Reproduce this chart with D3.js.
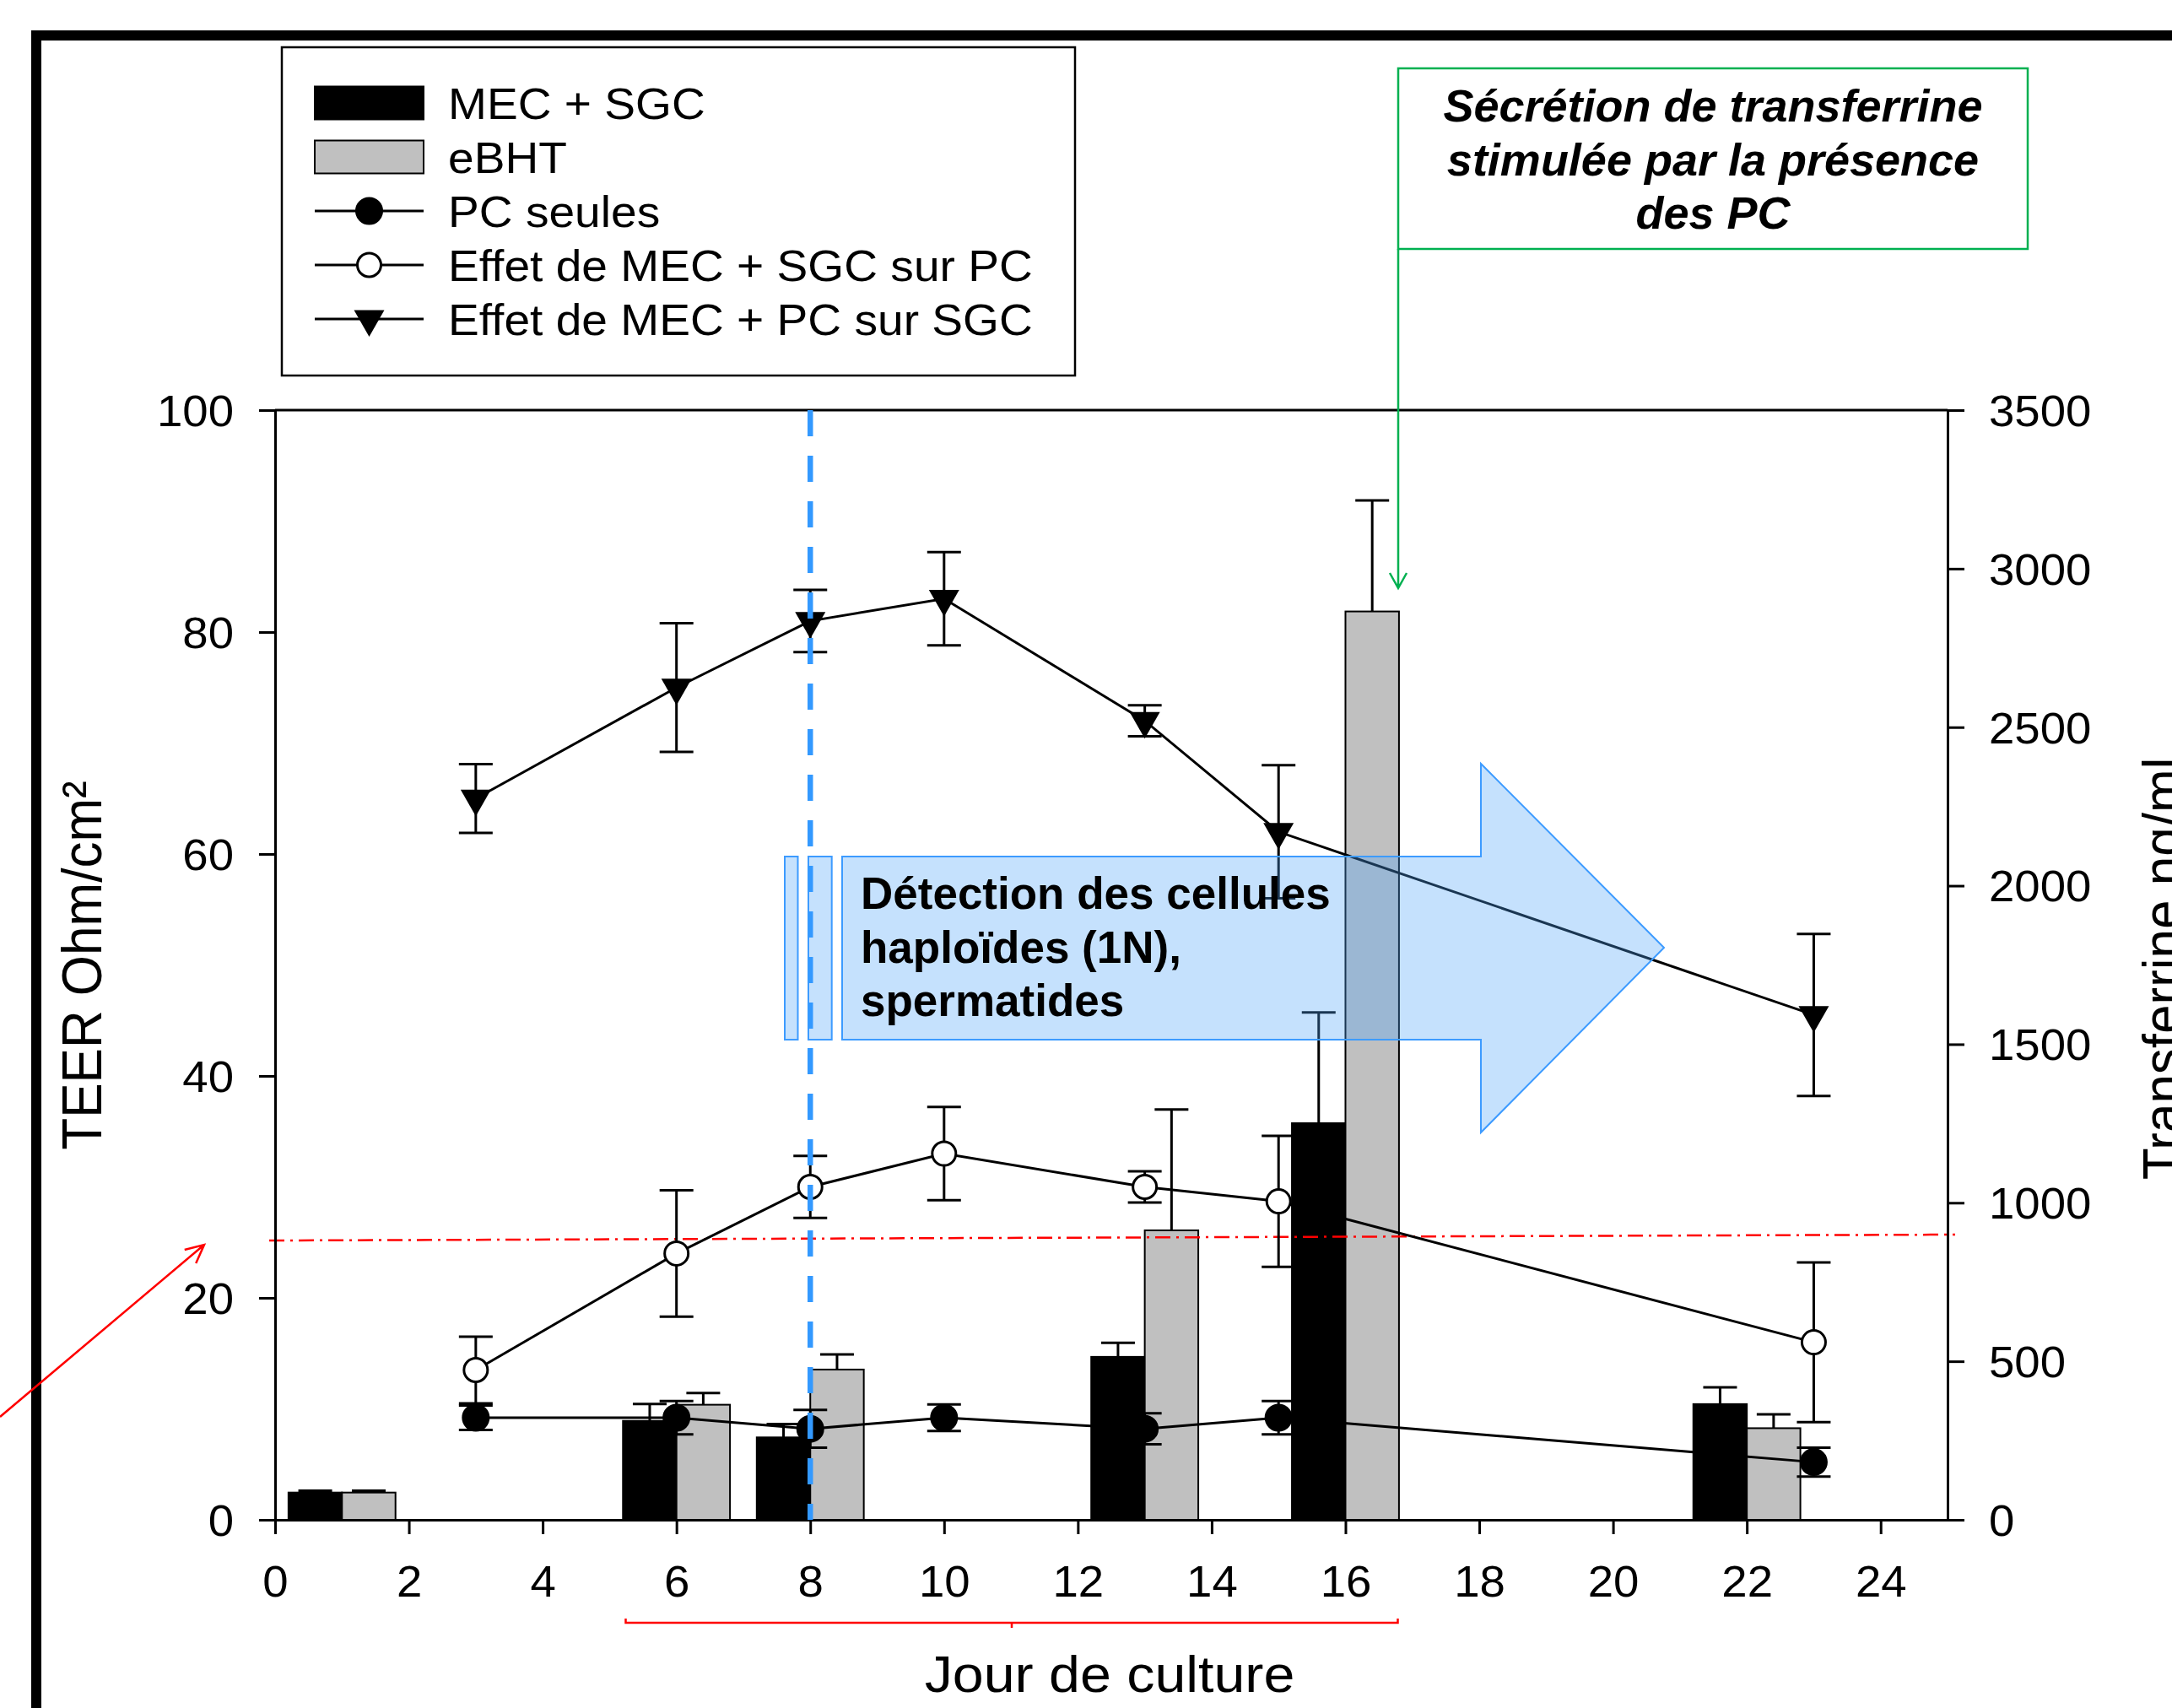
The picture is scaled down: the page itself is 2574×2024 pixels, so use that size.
<!DOCTYPE html>
<html><head><meta charset="utf-8">
<script src="https://cdn.jsdelivr.net/npm/d3@7"></script>
<style>body{margin:0;background:#fff} svg{display:block}</style>
</head><body>
<svg id="c" width="2574" height="2024"></svg>
<script>
// ---------- data ----------
const days = [3, 6, 8, 10, 13, 15, 23];
const pcSeules = [9.2, 9.2, 8.2, 9.2, 8.2, 9.2, 5.2];
const pcSeulesErr = [1.1, 1.5, 1.7, 1.2, 1.4, 1.5, 1.3];
const effetSgcSurPc = [13.5, 24.0, 30.0, 33.0, 30.0, 28.7, 16.0];
const effetSgcSurPcErr = [3.0, 5.7, 2.8, 4.2, 1.4, 5.9, 7.2];
const effetPcSurSgc = [65.0, 75.0, 81.0, 83.0, 72.0, 62.0, 45.5];
const effetPcSurSgcErr = [3.1, 5.8, 2.8, 4.2, 1.4, 6.0, 7.3];
const barDays = [1, 6, 8, 13, 16, 22];
const mecSgc = [86, 312, 260, 514, 1251, 365];
const mecSgcErr = [6, 53, 42, 44, 349, 53];
const ebht = [86, 363, 474, 913, 2865, 289];
const ebhtErr = [6, 37, 48, 381, 350, 44];
const xTicks = [0, 2, 4, 6, 8, 10, 12, 14, 16, 18, 20, 22, 24];
const leftTicks = [0, 20, 40, 60, 80, 100];
const rightTicks = [0, 500, 1000, 1500, 2000, 2500, 3000, 3500];
const legendLabels = ["MEC + SGC", "eBHT", "PC seules", "Effet de MEC + SGC sur PC", "Effet de MEC + PC sur SGC"];
const xTitle = "Jour de culture";
const yLeftTitle = "TEER Ohm/cm²";
const yRightTitle = "Transferrine ng/ml";
const noteGreen = ["Sécrétion de transferrine", "stimulée par la présence", "des PC"];
const noteBlue = ["Détection des cellules", "haploïdes (1N),", "spermatides"];
const detectionDay = 8;
const barWidthDays = 0.8;

// ---------- setup ----------
const FONT = "'Liberation Sans', Arial, Helvetica, sans-serif";
const SX = 1.07;
const svg = d3.select("#c");
svg.append("rect").attr("width", 2574).attr("height", 2024).attr("fill", "#fff");

const x = d3.scaleLinear().domain([0, 25]).range([326, 2308]);
const yL = d3.scaleLinear().domain([0, 100]).range([1801, 486]);
const yR = d3.scaleLinear().domain([0, 3500]).range([1801, 486]);

function stext(parent, px, py, txt, size, anchor, rot, weight, style, sx) {
  const g = parent.append("g")
    .attr("transform", `translate(${px},${py}) scale(${sx == null ? SX : sx},1)` + (rot ? ` rotate(${rot})` : ""));
  g.append("text").attr("x", 0).attr("y", 0)
    .attr("font-family", FONT).attr("font-size", size)
    .attr("text-anchor", anchor || "start")
    .attr("font-weight", weight || "normal")
    .attr("font-style", style || "normal")
    .attr("fill", "#000").text(txt);
  return g;
}

// outer frame (thick black)
svg.append("rect").attr("x", 37).attr("y", 36).attr("width", 2574 - 37).attr("height", 12).attr("fill", "#000");
svg.append("rect").attr("x", 37).attr("y", 36).attr("width", 12).attr("height", 2024 - 36).attr("fill", "#000");

// ---------- bars ----------
const plot = svg.append("g");
const bw = x(barWidthDays) - x(0);
plot.selectAll("rect.mec").data(barDays).join("rect")
  .attr("x", (d) => x(d - barWidthDays)).attr("width", bw)
  .attr("y", (d, i) => yR(mecSgc[i])).attr("height", (d, i) => yR(0) - yR(mecSgc[i]))
  .attr("fill", "#000").attr("stroke", "#000").attr("stroke-width", 2);
plot.selectAll("rect.ebht").data(barDays).join("rect")
  .attr("x", (d) => x(d)).attr("width", bw)
  .attr("y", (d, i) => yR(ebht[i])).attr("height", (d, i) => yR(0) - yR(ebht[i]))
  .attr("fill", "#c0c0c0").attr("stroke", "#000").attr("stroke-width", 2);

function barErr(vals, errs, offset) {
  barDays.forEach((d, i) => {
    const cx = x(d + offset);
    const y0 = yR(vals[i]), y1 = yR(vals[i] + errs[i]);
    plot.append("line").attr("x1", cx).attr("x2", cx).attr("y1", y0).attr("y2", y1)
      .attr("stroke", "#000").attr("stroke-width", 3);
    plot.append("line").attr("x1", cx - 20).attr("x2", cx + 20).attr("y1", y1).attr("y2", y1)
      .attr("stroke", "#000").attr("stroke-width", 3);
  });
}
barErr(mecSgc, mecSgcErr, -barWidthDays / 2);
barErr(ebht, ebhtErr, barWidthDays / 2);

// red dash-dot threshold line
svg.append("line").attr("x1", 319).attr("y1", 1470).attr("x2", 2317).attr("y2", 1463)
  .attr("stroke", "#ff0000").attr("stroke-width", 2.5).attr("stroke-dasharray", "18,7,3,7");

// ---------- line series ----------
const lineGen = d3.line().x((d) => x(d[0])).y((d) => yL(d[1]));
const series = [
  { vals: effetPcSurSgc, errs: effetPcSurSgcErr, marker: "tri" },
  { vals: effetSgcSurPc, errs: effetSgcSurPcErr, marker: "open" },
  { vals: pcSeules, errs: pcSeulesErr, marker: "filled" }
];
function triPath(cx, cy) {
  return `M${cx - 18},${cy - 10.5}L${cx + 18},${cy - 10.5}L${cx},${cy + 21}Z`;
}
function drawMarker(g, type, cx, cy) {
  if (type === "tri") {
    g.append("path").attr("d", triPath(cx, cy)).attr("fill", "#000");
  } else {
    g.append("circle").attr("cx", cx).attr("cy", cy).attr("r", type === "open" ? 14 : 15)
      .attr("fill", type === "open" ? "#fff" : "#000")
      .attr("stroke", "#000").attr("stroke-width", 3);
  }
}
const lg = svg.append("g");
series.forEach((s) => {
  lg.append("path").datum(days.map((d, i) => [d, s.vals[i]])).attr("d", lineGen)
    .attr("fill", "none").attr("stroke", "#000").attr("stroke-width", 3);
});
series.forEach((s) => {
  days.forEach((d, i) => {
    const cx = x(d), yt = yL(s.vals[i] + s.errs[i]), yb = yL(s.vals[i] - s.errs[i]);
    lg.append("line").attr("x1", cx).attr("x2", cx).attr("y1", yt).attr("y2", yb)
      .attr("stroke", "#000").attr("stroke-width", 3);
    [yt, yb].forEach((yy) => lg.append("line").attr("x1", cx - 20).attr("x2", cx + 20)
      .attr("y1", yy).attr("y2", yy).attr("stroke", "#000").attr("stroke-width", 3));
  });
});
series.forEach((s) => {
  days.forEach((d, i) => drawMarker(lg, s.marker, x(d), yL(s.vals[i])));
});

// ---------- axes ----------
function styleAxis(g, tx) {
  g.attr("font-family", FONT).attr("font-size", 51);
  g.select(".domain").attr("stroke", "#000").attr("stroke-width", 3);
  g.selectAll(".tick line").attr("stroke", "#000").attr("stroke-width", 3);
  g.selectAll(".tick text").attr("fill", "#000").attr("transform", `scale(${SX},1)`);
  if (tx != null) g.selectAll(".tick text").attr("x", tx / SX).attr("dy", "0.36em");
}
const gB = svg.append("g").attr("transform", `translate(0,${yL(0)})`)
  .call(d3.axisBottom(x).tickValues(xTicks).tickFormat(d3.format("d")).tickSize(17).tickPadding(38).tickSizeOuter(0));
styleAxis(gB, null);
const gLft = svg.append("g").attr("transform", `translate(${x(0)},0)`)
  .call(d3.axisLeft(yL).tickValues(leftTicks).tickFormat(d3.format("d")).tickSize(19).tickPadding(30).tickSizeOuter(0));
styleAxis(gLft, -49);
const gR = svg.append("g").attr("transform", `translate(${x(25)},0)`)
  .call(d3.axisRight(yR).tickValues(rightTicks).tickFormat(d3.format("d")).tickSize(20).tickPadding(29).tickSizeOuter(0));
styleAxis(gR, 49);
// top frame line
svg.append("line").attr("x1", x(0)).attr("x2", x(25)).attr("y1", yL(100)).attr("y2", yL(100))
  .attr("stroke", "#000").attr("stroke-width", 3);

// axis titles
stext(svg, 1315, 2005, xTitle, 62, "middle");
stext(svg, 120, 1144, yLeftTitle, 62, "middle", -90);
stext(svg, 2586, 1148, yRightTitle, 62, "middle", -90);

// red bracket under x axis
svg.append("path").attr("d", "M741.5,1918 V1923 H1656.5 V1918 M1199,1923 V1929")
  .attr("fill", "none").attr("stroke", "#ff0000").attr("stroke-width", 2.5);

// red arrow on left
(function () {
  const x0 = 0, y0 = 1679, x1 = 242, y1 = 1475;
  const a = Math.atan2(y1 - y0, x1 - x0), L = 24, w = 0.45;
  svg.append("path")
    .attr("d", `M${x0},${y0}L${x1},${y1}M${x1 - L * Math.cos(a - w)},${y1 - L * Math.sin(a - w)}L${x1},${y1}L${x1 - L * Math.cos(a + w)},${y1 - L * Math.sin(a + w)}`)
    .attr("fill", "none").attr("stroke", "#ff0000").attr("stroke-width", 2.5);
})();

// ---------- legend ----------
const leg = svg.append("g");
leg.append("rect").attr("x", 334).attr("y", 56).attr("width", 940).attr("height", 389)
  .attr("fill", "#fff").attr("stroke", "#000").attr("stroke-width", 2.5);
const legTypes = ["barBlack", "barGray", "filled", "open", "tri"];
legendLabels.forEach((lab, i) => {
  const cy = 122 + i * 64;
  const t = legTypes[i];
  if (t === "barBlack" || t === "barGray") {
    leg.append("rect").attr("x", 373).attr("y", cy - 19.5).attr("width", 129).attr("height", 39)
      .attr("fill", t === "barBlack" ? "#000" : "#c0c0c0").attr("stroke", "#000").attr("stroke-width", 2);
  } else {
    leg.append("line").attr("x1", 373).attr("x2", 502).attr("y1", cy).attr("y2", cy)
      .attr("stroke", "#000").attr("stroke-width", 3);
    drawMarker(leg, t, 437.5, cy);
  }
  stext(leg, 531, cy + 19, lab, 52, "start", 0, "normal", "normal", 1.06);
});

// ---------- green annotation ----------
svg.append("rect").attr("x", 1657).attr("y", 81).attr("width", 746).attr("height", 214)
  .attr("fill", "#fff").attr("stroke", "#00b050").attr("stroke-width", 2.5);
[144, 207.5, 271].forEach((by, i) => stext(svg, 2030, by, noteGreen[i], 54, "middle", 0, "bold", "italic", 1));
svg.append("path").attr("d", "M1657,295 V697 M1647,679 L1657,697 L1667,679")
  .attr("fill", "none").attr("stroke", "#00b050").attr("stroke-width", 2.5);

// ---------- blue striped block arrow ----------
const ba = svg.append("g");
const fillC = "rgb(79,164,248)";
ba.append("rect").attr("x", 930).attr("y", 1015).attr("width", 15.5).attr("height", 217)
  .attr("fill", fillC).attr("fill-opacity", 0.33).attr("stroke", "#3d9bff").attr("stroke-width", 2);
ba.append("rect").attr("x", 958).attr("y", 1015).attr("width", 27.7).attr("height", 217)
  .attr("fill", fillC).attr("fill-opacity", 0.33).attr("stroke", "#3d9bff").attr("stroke-width", 2);
ba.append("path").attr("d", "M998,1015 H1755 V905 L1972,1123 L1755,1342 V1232 H998 Z")
  .attr("fill", fillC).attr("fill-opacity", 0.33).attr("stroke", "#3d9bff").attr("stroke-width", 2);
[1077, 1141, 1204].forEach((by, i) => stext(ba, 1020, by, noteBlue[i], 53, "start", 0, "bold", "normal", 1));

// blue dashed vertical line at detection day
svg.append("line").attr("x1", x(detectionDay)).attr("x2", x(detectionDay)).attr("y1", yL(100)).attr("y2", yL(0))
  .attr("stroke", "#3399ff").attr("stroke-width", 6.5).attr("stroke-dasharray", "31,23");
</script>
</body></html>
